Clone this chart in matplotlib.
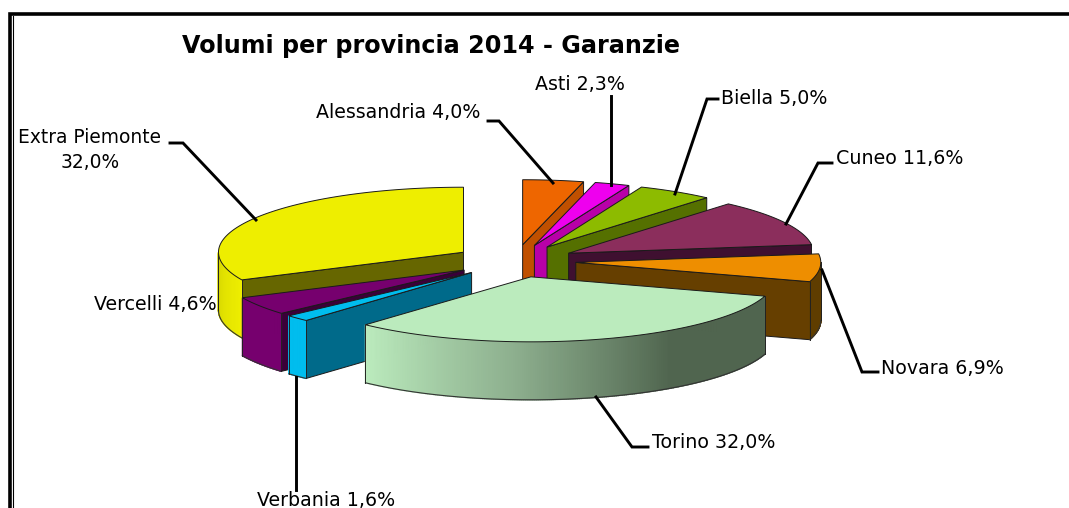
import numpy as np
from matplotlib import pyplot as plt
from matplotlib.colors import to_rgb

provinces = ['Alessandria', 'Asti', 'Biella', 'Cuneo', 'Novara', 'Torino',
             'Verbania', 'Vercelli', 'Extra Piemonte']
volumes = [4.0, 2.3, 5.0, 11.6, 6.9, 32.0, 1.6, 4.6, 32.0]

top_colors = ['#EE6600', '#EE00EE', '#8DBB00', '#8B2E5C', '#EE8E00',
              '#BBEBBD', '#00BDEE', '#76006E', '#EEEE00']
side_colors = ['#C05000', '#B800A8', '#557000', '#3F1030', '#663F00',
               '#50654F', '#006A8A', '#3A0038', '#666600']
# rim shading from start to end of the visible arc
rim_colors = [['#C05000'], ['#B800A8'], ['#557000'], ['#3F1030'], ['#5F3D00'],
              ['#50654F', '#50654F', '#8DAF8E', '#BBEBBD'],
              ['#00BDEE'], ['#76006E'], ['#EEEE00', '#D8D800']]

# pie geometry, in pixels
cx, cy = 515, 261
ex, ey = 61, 16.4
rx, ry = 245, 65
depth = 58

plt.rcParams['font.family'] = ['DejaVu Sans']

fig = plt.figure(figsize=(10.69, 5.08), dpi=100)
ax = fig.add_axes([0, 0, 1, 1])
ax.set_xlim(0, 1069)
ax.set_ylim(508, 0)
ax.axis('off')

# frame of the original screenshot
ax.plot([1069, 10, 10], [14, 14, 508], color='black', lw=2.6, solid_joinstyle='miter')
ax.plot([13, 13], [16, 508], color='black', lw=0.8)

edges = np.cumsum([0] + volumes) / sum(volumes) * 360


def arc_points(ax0, ay0, a0, a1):
    t = np.radians(np.linspace(a0, a1, max(int(abs(a1 - a0) * 2), 2)))
    return ax0 + rx * np.sin(t), ay0 - ry * np.cos(t)


def draw_radial_face(ax0, ay0, angle, color):
    t = np.radians(angle)
    x1 = ax0 + rx * np.sin(t)
    y1 = ay0 - ry * np.cos(t)
    ax.fill([ax0, x1, x1, ax0], [ay0, y1, y1 + depth, ay0 + depth],
            facecolor=color, edgecolor='#1a1a1a', lw=0.7)


def draw_rim(ax0, ay0, a0, a1, colors):
    a0 = max(a0, 90)
    a1 = min(a1, 270)
    if a1 <= a0:
        return
    xs, ys = arc_points(ax0, ay0, a0, a1)
    rgb = np.array([to_rgb(c) for c in colors])
    stops = np.linspace(0, 1, len(colors))
    for i in range(len(xs) - 1):
        f = i / max(len(xs) - 2, 1)
        col = [np.interp(f, stops, rgb[:, k]) for k in range(3)]
        ax.fill([xs[i], xs[i + 1], xs[i + 1], xs[i]],
                [ys[i], ys[i + 1], ys[i + 1] + depth, ys[i] + depth],
                facecolor=col, edgecolor=col, lw=1.0)
    # outline of the rim
    ax.plot(xs, ys + depth, color='#333333', lw=0.8)
    ax.plot([xs[0], xs[0]], [ys[0], ys[0] + depth], color='#222222', lw=0.7)
    ax.plot([xs[-1], xs[-1]], [ys[-1], ys[-1] + depth], color='#222222', lw=0.7)


def draw_slice(i):
    a0, a1 = edges[i], edges[i + 1]
    mid = np.radians((a0 + a1) / 2)
    ax0 = cx + ex * np.sin(mid)
    ay0 = cy - ey * np.cos(mid)
    if a1 < 180:
        draw_radial_face(ax0, ay0, a1, side_colors[i])
    if a0 > 180:
        draw_radial_face(ax0, ay0, a0, side_colors[i])
    draw_rim(ax0, ay0, a0, a1, rim_colors[i])
    xs, ys = arc_points(ax0, ay0, a0, a1)
    ax.fill(np.r_[ax0, xs], np.r_[ay0, ys], facecolor=top_colors[i],
            edgecolor='#1a1a1a', lw=0.7)


# back slices first, Torino last
for i in [0, 1, 2, 3, 4, 8, 7, 6, 5]:
    draw_slice(i)

ax.text(182, 46, 'Volumi per provincia 2014 - Garanzie', fontsize=17.2,
        fontweight='bold', va='center', ha='left', color='black')

labels = {}
for name, v in zip(provinces, volumes):
    labels[name] = f'{v:.1f}%'.replace('.', ',')

label_pos = {
    'Alessandria': (316, 113),
    'Asti': (535, 85),
    'Biella': (721, 99),
    'Cuneo': (836, 158),
    'Novara': (881, 368),
    'Torino': (652, 442),
    'Verbania': (257, 500),
    'Vercelli': (94, 305),
}
for name, (x, y) in label_pos.items():
    ax.text(x, y, name + ' ' + labels[name], fontsize=13.7, va='center', ha='left')
ax.text(90, 150, 'Extra Piemonte\n' + labels['Extra Piemonte'], fontsize=13.4,
        va='center', ha='center', linespacing=1.4)

leaders = [
    ([170, 183, 256], [143, 143, 220]),
    ([488, 499, 553], [121, 121, 183]),
    ([611, 611], [96, 185]),
    ([718, 707, 675], [99, 99, 194]),
    ([832, 818, 786], [163, 163, 224]),
    ([878, 862, 822], [372, 372, 270]),
    ([648, 632, 596], [447, 447, 397]),
    ([296, 296], [490, 377]),
]
for xs, ys in leaders:
    ax.plot(xs, ys, color='black', lw=2.1, solid_joinstyle='miter')

fig.savefig('out.png', dpi=100)
